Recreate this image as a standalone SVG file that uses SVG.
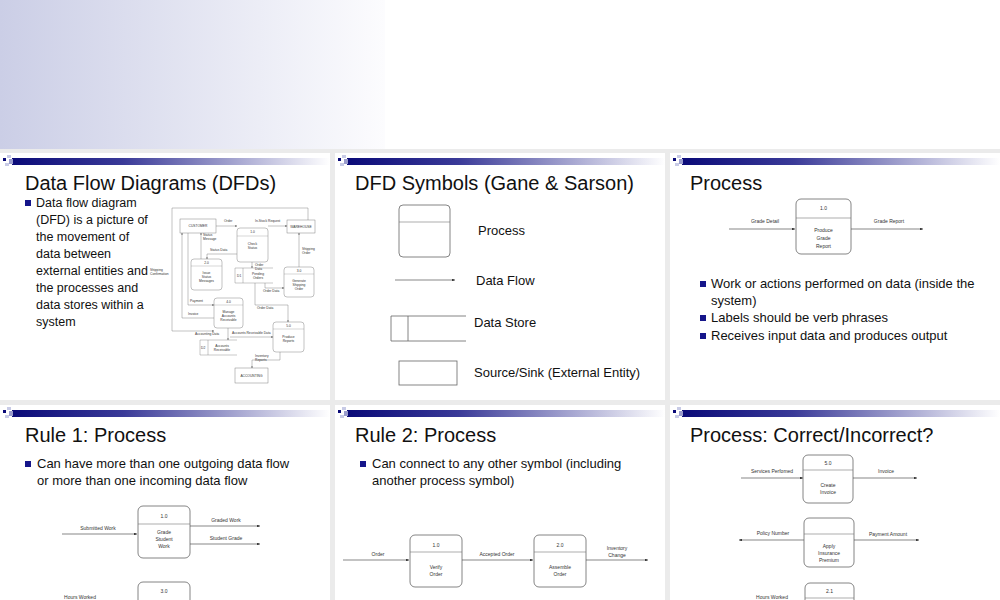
<svg xmlns="http://www.w3.org/2000/svg" width="1000" height="600" viewBox="0 0 1000 600">
<defs>
<linearGradient id="topg" x1="0" y1="0" x2="1" y2="0"><stop offset="0" stop-color="#cbcee6"/><stop offset="1" stop-color="#fcfcfe"/></linearGradient>
<linearGradient id="barg" x1="0" y1="0" x2="1" y2="0"><stop offset="0" stop-color="#0a0a78"/><stop offset="0.35" stop-color="#3a3a98"/><stop offset="1" stop-color="#ffffff"/></linearGradient>
<marker id="ah" viewBox="0 0 10 10" refX="10" refY="5" markerWidth="4" markerHeight="4" orient="auto"><path d="M0,1 L10,5 L0,9 z" fill="#111"/></marker>
<g id="hdr">
<rect x="12" y="5" width="318" height="7" fill="url(#barg)"/>
<rect x="3" y="5" width="3" height="3" fill="#0a0a78"/>
<rect x="7" y="2" width="4" height="3" fill="#c8cbe6"/>
<rect x="9" y="6" width="4" height="5" fill="#9a9ccd"/>
<rect x="5" y="10" width="4" height="3" fill="#c8cbe6"/>
</g>
</defs>
<style>
.t{font-family:"Liberation Sans",Arial,sans-serif;fill:#111}
.ti{font-size:20px}
.b{font-size:13px}
.b1{font-size:12.5px}
.s{font-size:5px;fill:#333}
.xs{font-size:3.3px;fill:#333}
.p{fill:#fff;stroke:#666;stroke-width:0.8}
.ln{stroke:#777;stroke-width:0.6;fill:none}
.f{stroke:#555;stroke-width:0.7;fill:none;marker-end:url(#ah)}
.f2{stroke:#666;stroke-width:0.4;fill:none;marker-end:url(#ah)}
.bl{fill:#16168a}
</style>
<rect width="1000" height="600" fill="#ebebeb"/>
<rect x="0" y="0" width="1000" height="149" fill="#fff"/>
<rect x="0" y="0" width="385" height="149" fill="url(#topg)"/>

<!-- Slide 1 -->
<g id="slide1">
<rect x="0" y="153" width="330" height="247" fill="#fff"/>
<use href="#hdr" x="0" y="153"/>
<text class="t ti" x="25" y="190">Data Flow Diagrams (DFDs)</text>
<rect class="bl" x="25" y="200" width="6" height="6"/>
<text class="t b1"><tspan x="36" y="207">Data flow diagram</tspan><tspan x="36" y="224">(DFD) is a picture of</tspan><tspan x="36" y="241">the movement of</tspan><tspan x="36" y="258">data between</tspan><tspan x="36" y="275">external entities and</tspan><tspan x="36" y="292">the processes and</tspan><tspan x="36" y="309">data stores within a</tspan><tspan x="36" y="326">system</tspan></text>
</g>
<g id="dfd-connectors">
<path class="f2" d="M308,221 V208 H172 V331 H214"/>
<path class="f2" d="M216,226 H237"/>
<path class="f2" d="M268,226 H287"/>
<path class="f2" d="M201,259 V233"/>
<path class="f2" d="M237,254 H207 V259"/>
<path class="f2" d="M252,262 V268"/>
<path class="f2" d="M265,283 V288 H284"/>
<path class="f2" d="M299,267 V233"/>
<path class="f2" d="M255,283 V305 H288 V322"/>
<path class="f2" d="M188,233 V305 H214"/>
<path class="f2" d="M214,318 H182 V233"/>
<path class="f2" d="M228,328 V340"/>
<path class="f2" d="M230,337 H273"/>
<path class="f2" d="M280,352 V360 H252 V368"/>
<text class="t xs" x="224" y="222">Order</text>
<text class="t xs" x="255" y="222">In-Stock Request</text>
<text class="t xs" x="203" y="236">Status</text><text class="t xs" x="203" y="240">Message</text>
<text class="t xs" x="210" y="251">Status Data</text>
<text class="t xs" x="255" y="266">Order</text><text class="t xs" x="255" y="270">Data</text>
<text class="t xs" x="302" y="250">Shipping</text><text class="t xs" x="302" y="254">Order</text>
<text class="t xs" x="263" y="292">Order Data</text>
<text class="t xs" x="257" y="309">Order Data</text>
<text class="t xs" x="150" y="271">Shipping</text><text class="t xs" x="150" y="275">Confirmation</text>
<text class="t xs" x="190" y="302">Payment</text>
<text class="t xs" x="188" y="315">Invoice</text>
<text class="t xs" x="195" y="335">Accounting Data</text>
<text class="t xs" x="232" y="334">Accounts Receivable Data</text>
<text class="t xs" x="255" y="357">Inventory</text><text class="t xs" x="255" y="361">Reports</text>
</g>
<g id="dfd-customer"><rect class="p" x="180" y="219" width="36" height="14" style="stroke-width:0.4"/><text class="t xs" x="198" y="227" text-anchor="middle">CUSTOMER</text></g>
<g id="dfd-warehouse"><rect class="p" x="287" y="220" width="28" height="13" style="stroke-width:0.4"/><text class="t xs" x="301" y="228" text-anchor="middle">WAREHOUSE</text></g>
<g id="dfd-p1"><rect class="p" x="237" y="228" width="31" height="34" rx="3" style="stroke-width:0.4"/><line class="ln" x1="237" y1="236" x2="268" y2="236" style="stroke-width:0.3"/><text class="t xs" text-anchor="middle"><tspan x="252.5" y="233">1.0</tspan><tspan x="252.5" y="245">Check</tspan><tspan x="252.5" y="249">Status</tspan></text></g>
<g id="dfd-p2"><rect class="p" x="191" y="259" width="31" height="31" rx="3" style="stroke-width:0.4"/><line class="ln" x1="191" y1="266" x2="222" y2="266" style="stroke-width:0.3"/><text class="t xs" text-anchor="middle"><tspan x="206.5" y="264">2.0</tspan><tspan x="206.5" y="274">Issue</tspan><tspan x="206.5" y="278">Status</tspan><tspan x="206.5" y="282">Messages</tspan></text></g>
<g id="dfd-d1"><path class="ln" d="M273,268 H235 V283 H273 M243,268 V283" style="stroke-width:0.4"/><text class="t xs" x="237" y="277">D1</text><text class="t xs" text-anchor="middle"><tspan x="258" y="275">Pending</tspan><tspan x="258" y="279">Orders</tspan></text></g>
<g id="dfd-p3"><rect class="p" x="284" y="267" width="30" height="30" rx="3" style="stroke-width:0.4"/><line class="ln" x1="284" y1="274" x2="314" y2="274" style="stroke-width:0.3"/><text class="t xs" text-anchor="middle"><tspan x="299" y="272">3.0</tspan><tspan x="299" y="282">Generate</tspan><tspan x="299" y="286">Shipping</tspan><tspan x="299" y="290">Order</tspan></text></g>
<g id="dfd-p4"><rect class="p" x="214" y="298" width="29" height="30" rx="3" style="stroke-width:0.4"/><line class="ln" x1="214" y1="305" x2="243" y2="305" style="stroke-width:0.3"/><text class="t xs" text-anchor="middle"><tspan x="228.5" y="303">4.0</tspan><tspan x="228.5" y="313">Manage</tspan><tspan x="228.5" y="317">Accounts</tspan><tspan x="228.5" y="321">Receivable</tspan></text></g>
<g id="dfd-p5"><rect class="p" x="273" y="322" width="31" height="30" rx="3" style="stroke-width:0.4"/><line class="ln" x1="273" y1="329" x2="304" y2="329" style="stroke-width:0.3"/><text class="t xs" text-anchor="middle"><tspan x="288.5" y="327">5.0</tspan><tspan x="288.5" y="338">Produce</tspan><tspan x="288.5" y="342">Reports</tspan></text></g>
<g id="dfd-d2"><path class="ln" d="M237,340 H200 V355 H237 M208,340 V355" style="stroke-width:0.4"/><text class="t xs" x="201" y="349">D2</text><text class="t xs" text-anchor="middle"><tspan x="222" y="347">Accounts</tspan><tspan x="222" y="351">Receivable</tspan></text></g>
<g id="dfd-accounting"><rect class="p" x="235" y="368" width="33" height="15" style="stroke-width:0.4"/><text class="t xs" x="251.5" y="377" text-anchor="middle">ACCOUNTING</text></g>

<!-- Slide 2 -->
<g id="slide2">
<rect x="335" y="153" width="330" height="247" fill="#fff"/>
<use href="#hdr" x="335" y="153"/>
<text class="t ti" x="355" y="190">DFD Symbols (Gane &amp; Sarson)</text>
<rect class="p" x="399" y="205" width="51" height="52" rx="4"/>
<line class="ln" x1="399" y1="222" x2="450" y2="222"/>
<text class="t" x="478" y="235" style="font-size:13px">Process</text>
<line class="f" x1="395" y1="280" x2="455" y2="280"/>
<text class="t" x="476" y="285" style="font-size:13px">Data Flow</text>
<path class="ln" d="M466,316 H391 V341 H466 M408,316 V341" style="stroke:#666;stroke-width:0.8"/>
<text class="t" x="474" y="327" style="font-size:13px">Data Store</text>
<rect class="p" x="399" y="361" width="58" height="24"/>
<text class="t" x="474" y="377" style="font-size:13px">Source/Sink (External Entity)</text>
</g>

<!-- Slide 3 -->
<g id="slide3">
<rect x="670" y="153" width="330" height="247" fill="#fff"/>
<use href="#hdr" x="670" y="153"/>
<text class="t ti" x="690" y="190">Process</text>
<line class="f" x1="729" y1="229" x2="795" y2="229"/>
<text class="t s" x="765" y="223" text-anchor="middle">Grade Detail</text>
<rect class="p" x="796" y="199" width="55" height="55" rx="5"/>
<line class="ln" x1="796" y1="218" x2="851" y2="218"/>
<text class="t s" text-anchor="middle"><tspan x="823.5" y="210">1.0</tspan><tspan x="823.5" y="232">Produce</tspan><tspan x="823.5" y="240">Grade</tspan><tspan x="823.5" y="248">Report</tspan></text>
<line class="f" x1="851" y1="229" x2="923" y2="229"/>
<text class="t s" x="889" y="223" text-anchor="middle">Grade Report</text>
<rect class="bl" x="700" y="281" width="6" height="6"/>
<rect class="bl" x="700" y="315" width="6" height="6"/>
<rect class="bl" x="700" y="333" width="6" height="6"/>
<text class="t b"><tspan x="711" y="288">Work or actions performed on data (inside the</tspan><tspan x="711" y="305">system)</tspan><tspan x="711" y="322">Labels should be verb phrases</tspan><tspan x="711" y="340">Receives input data and produces output</tspan></text>
</g>

<!-- Slide 4 -->
<g id="slide4">
<rect x="0" y="405" width="330" height="195" fill="#fff"/>
<use href="#hdr" x="0" y="405"/>
<text class="t ti" x="25" y="442">Rule 1: Process</text>
<rect class="bl" x="25" y="461" width="6" height="6"/>
<text class="t b"><tspan x="37" y="468">Can have more than one outgoing data flow</tspan><tspan x="37" y="485">or more than one incoming data flow</tspan></text>
<line class="f" x1="62" y1="534" x2="137" y2="534"/>
<text class="t s" x="98" y="530" text-anchor="middle">Submitted Work</text>
<rect class="p" x="138" y="506" width="52" height="52" rx="5"/>
<line class="ln" x1="138" y1="524" x2="190" y2="524"/>
<text class="t s" text-anchor="middle"><tspan x="164" y="518">1.0</tspan><tspan x="164" y="534">Grade</tspan><tspan x="164" y="541">Student</tspan><tspan x="164" y="548">Work</tspan></text>
<line class="f" x1="190" y1="526" x2="260" y2="526"/>
<text class="t s" x="226" y="522" text-anchor="middle">Graded Work</text>
<line class="f" x1="190" y1="544" x2="260" y2="544"/>
<text class="t s" x="226" y="540" text-anchor="middle">Student Grade</text>
<rect class="p" x="138" y="582" width="52" height="40" rx="5"/>
<text class="t s" x="164" y="593" text-anchor="middle">3.0</text>
<text class="t s" x="80" y="599" text-anchor="middle">Hours Worked</text>
</g>

<!-- Slide 5 -->
<g id="slide5">
<rect x="335" y="405" width="330" height="195" fill="#fff"/>
<use href="#hdr" x="335" y="405"/>
<text class="t ti" x="355" y="442">Rule 2: Process</text>
<rect class="bl" x="360" y="461" width="6" height="6"/>
<text class="t b"><tspan x="372" y="468">Can connect to any other symbol (including</tspan><tspan x="372" y="485">another process symbol)</tspan></text>
<line class="f" x1="343" y1="560" x2="409" y2="560"/>
<text class="t s" x="378" y="556" text-anchor="middle">Order</text>
<rect class="p" x="410" y="535" width="52" height="52" rx="5"/>
<line class="ln" x1="410" y1="552" x2="462" y2="552"/>
<text class="t s" text-anchor="middle"><tspan x="436" y="547">1.0</tspan><tspan x="436" y="569">Verify</tspan><tspan x="436" y="576">Order</tspan></text>
<line class="f" x1="462" y1="560" x2="533" y2="560"/>
<text class="t s" x="497" y="556" text-anchor="middle">Accepted Order</text>
<rect class="p" x="534" y="535" width="52" height="52" rx="5"/>
<line class="ln" x1="534" y1="552" x2="586" y2="552"/>
<text class="t s" text-anchor="middle"><tspan x="560" y="547">2.0</tspan><tspan x="560" y="569">Assemble</tspan><tspan x="560" y="576">Order</tspan></text>
<line class="f" x1="586" y1="560" x2="648" y2="560"/>
<text class="t s" text-anchor="middle"><tspan x="617" y="550">Inventory</tspan><tspan x="617" y="557">Change</tspan></text>
</g>

<!-- Slide 6 -->
<g id="slide6">
<rect x="670" y="405" width="330" height="195" fill="#fff"/>
<use href="#hdr" x="670" y="405"/>
<text class="t ti" x="690" y="442">Process: Correct/Incorrect?</text>
<line class="f" x1="741" y1="478" x2="803" y2="478"/>
<text class="t s" x="772" y="473" text-anchor="middle">Services Perfomed</text>
<rect class="p" x="803" y="455" width="50" height="48" rx="5"/>
<line class="ln" x1="803" y1="470" x2="853" y2="470"/>
<text class="t s" text-anchor="middle"><tspan x="828" y="465">5.0</tspan><tspan x="828" y="487">Create</tspan><tspan x="828" y="494">Invoice</tspan></text>
<line class="f" x1="853" y1="478" x2="917" y2="478"/>
<text class="t s" x="886" y="473" text-anchor="middle">Invoice</text>
<line class="f" x1="804" y1="540" x2="739" y2="540"/>
<text class="t s" x="773" y="535" text-anchor="middle">Policy Number</text>
<rect class="p" x="804" y="518" width="50" height="49" rx="5"/>
<line class="ln" x1="804" y1="534" x2="854" y2="534"/>
<text class="t s" text-anchor="middle"><tspan x="829" y="548">Apply</tspan><tspan x="829" y="555">Insurance</tspan><tspan x="829" y="562">Premium</tspan></text>
<line class="f" x1="854" y1="540" x2="919" y2="540"/>
<text class="t s" x="888" y="536" text-anchor="middle">Payment Amount</text>
<rect class="p" x="805" y="583" width="49" height="40" rx="5"/>
<line class="ln" x1="805" y1="598" x2="854" y2="598"/>
<text class="t s" x="829.5" y="593" text-anchor="middle">2.1</text>
<text class="t s" x="772" y="599" text-anchor="middle">Hours Worked</text>
</g>
</svg>
